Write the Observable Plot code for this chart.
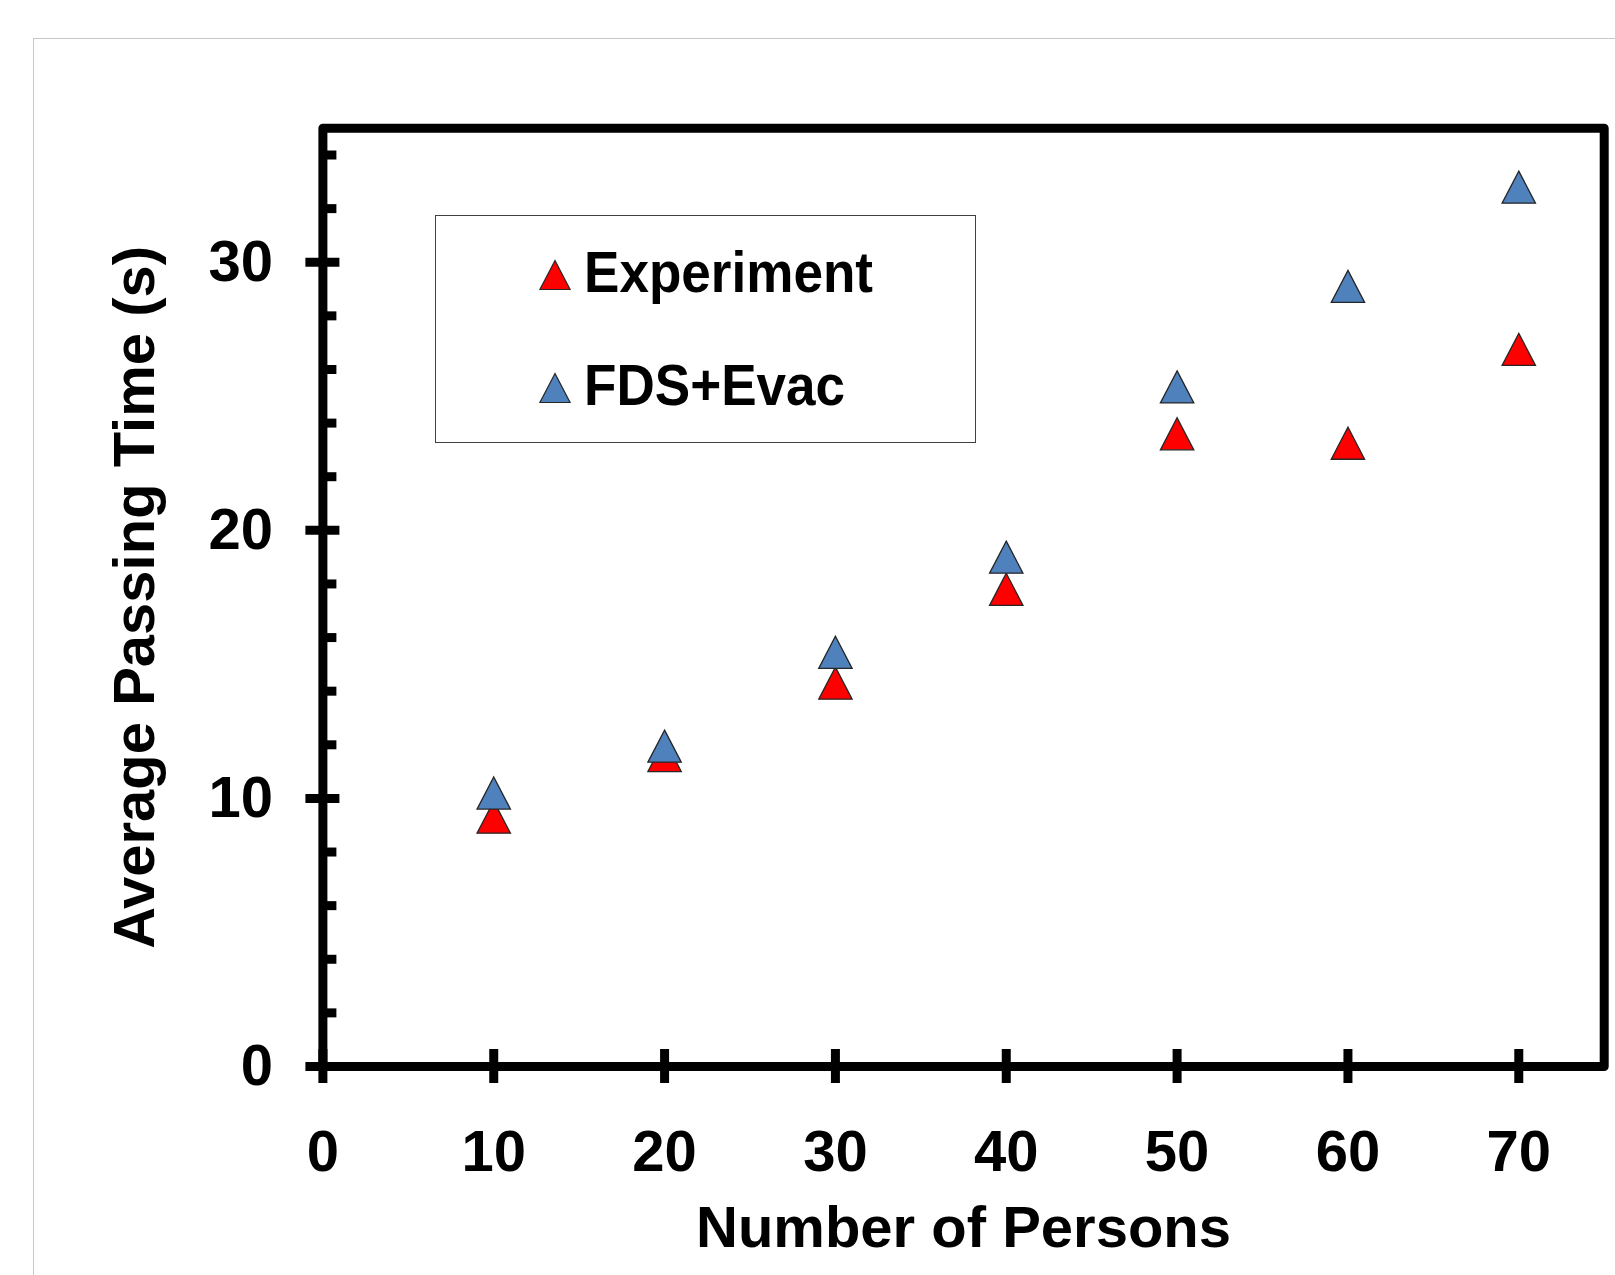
<!DOCTYPE html>
<html>
<head>
<meta charset="utf-8">
<script src="https://cdn.jsdelivr.net/npm/d3@7"></script>
<script src="https://cdn.jsdelivr.net/npm/@observablehq/plot@0.6"></script>
<style>
html, body { margin:0; padding:0; background:#fff; overflow:hidden; }
#wrap { position:relative; width:1615px; height:1275px; overflow:hidden; font-family:"Liberation Sans", Arial, sans-serif; }
#area { position:absolute; left:33px; top:38px; width:1700px; height:1400px; border-top:1.5px solid #c8c8c8; border-left:1.5px solid #c8c8c8; box-sizing:border-box; }
#chart { position:absolute; left:0; top:0; }
#legend { position:absolute; left:435px; top:215px; width:541px; height:228px; border:1.5px solid #404040; box-sizing:border-box; background:#fff; }
.lg-sym { position:absolute; overflow:visible; }
.lg-text { position:absolute; font-size:58px; font-weight:bold; line-height:58px; white-space:nowrap; color:#000; transform:scaleX(0.915); transform-origin:0 50%; }
</style>
</head>
<body>
<div id="wrap"><div id="area"></div><div id="chart"></div><div id="legend"></div></div>
<script>
// ---- data ----
const persons = [10, 20, 30, 40, 50, 60, 70];
const experiment = [9.3, 11.6, 14.3, 17.8, 23.6, 23.25, 26.75];
const fdsEvac = [10.2, 11.95, 15.45, 19.0, 25.35, 29.1, 32.8];
const seriesNames = ["Experiment", "FDS+Evac"];
const seriesColors = ["#FF0000", "#4F81BD"];
const xTicks = [0, 10, 20, 30, 40, 50, 60, 70];
const yTicks = [0, 10, 20, 30];
const yMinorTicks = [2, 4, 6, 8, 12, 14, 16, 18, 22, 24, 26, 28, 32, 34];
const xTitle = "Number of Persons";
const yTitle = "Average Passing Time (s)";

// Excel-like isosceles triangle marker (bounding-box centred)
const isoTriangle = {
  draw(ctx, size) {
    const s = Math.sqrt(size);
    ctx.moveTo(0, -s / 2);
    ctx.lineTo(s * 0.52, s / 2);
    ctx.lineTo(-s * 0.52, s / 2);
    ctx.closePath();
  }
};

const rows = [];
[experiment, fdsEvac].forEach((vals, si) => {
  persons.forEach((p, i) => rows.push({persons: p, time: vals[i], series: seriesNames[si]}));
});

const chart = Plot.plot({
  width: 1615,
  height: 1275,
  marginLeft: 322.4,
  marginRight: 11.3,
  marginTop: 127.7,
  marginBottom: 209,
  style: {fontFamily: "'Liberation Sans', Arial, sans-serif", fontSize: "58px", fontWeight: "bold", background: "transparent", color: "#000"},
  x: {domain: [0, 75]},
  y: {domain: [0, 35]},
  color: {domain: seriesNames, range: seriesColors},
  marks: [
    Plot.axisY({ticks: yMinorTicks, tickSize: 14, dx: 14, tickFormat: () => "", strokeWidth: 9, label: null}),
    Plot.axisY({ticks: yTicks, tickSize: 34, dx: 17, tickPadding: 33, strokeWidth: 9, label: null, fontSize: 58, fontWeight: "bold"}),
    Plot.axisX({ticks: xTicks, tickSize: 34, dy: -17, tickPadding: 46, strokeWidth: 9, label: null, fontSize: 58, fontWeight: "bold"}),
    Plot.frame({stroke: "#000", strokeWidth: 9, strokeLinejoin: "round"}),
    Plot.dot(rows, {x: "persons", y: "time", fill: "series", symbol: isoTriangle, r: 18.1, stroke: "#262626", strokeWidth: 1.3}),
    Plot.text([xTitle], {text: d => d, frameAnchor: "bottom", textAnchor: "middle", lineAnchor: "top", dy: 139, fontSize: 58, fontWeight: "bold"}),
    Plot.text([yTitle], {text: d => d, frameAnchor: "left", textAnchor: "middle", rotate: -90, lineAnchor: "top", dx: -210, fontSize: 58, fontWeight: "bold"})
  ]
});
document.getElementById("chart").appendChild(chart);

// ---- legend (inside plot area, like the original) ----
const legend = d3.select("#legend");
const legendRows = [
  {name: seriesNames[0], color: seriesColors[0], cy: 58.5, top: 26.9},
  {name: seriesNames[1], color: seriesColors[1], cy: 171.5, top: 140.2}
];
const symPath = d3.symbol(isoTriangle, 29 * 29)();
legendRows.forEach(r => {
  const svg = legend.append("svg").attr("class", "lg-sym")
    .attr("width", 40).attr("height", 40)
    .style("left", (118.5 - 20) + "px").style("top", (r.cy - 20) + "px");
  svg.append("path").attr("d", symPath).attr("transform", "translate(20,20)")
    .attr("fill", r.color).attr("stroke", "#262626").attr("stroke-width", 1.2);
  legend.append("div").attr("class", "lg-text")
    .style("left", "147.5px").style("top", r.top + "px").text(r.name);
});
</script>
</body>
</html>
